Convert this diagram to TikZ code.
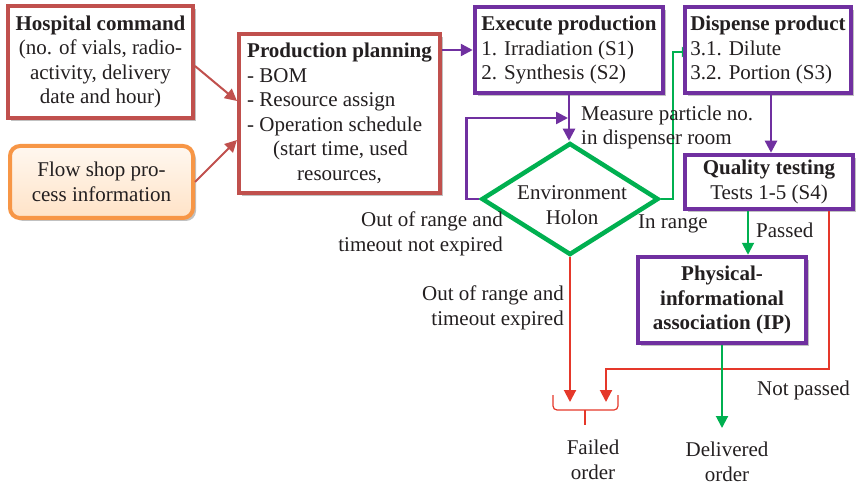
\documentclass[tikz,border=0pt]{standalone}
\usepackage{fontspec}
\setmainfont{Liberation Serif}
\usetikzlibrary{shapes.geometric,arrows.meta,shadows,backgrounds}

\definecolor{boxred}{HTML}{C0504D}
\definecolor{failred}{HTML}{E5382A}
\definecolor{holonpurple}{HTML}{7030A0}
\definecolor{holongreen}{HTML}{00B050}
\definecolor{orangeedge}{HTML}{F79646}
\definecolor{inktext}{HTML}{231F20}

\newcommand\diagfont{\fontsize{21}{24.5}\selectfont}

\begin{document}
\begin{tikzpicture}[x=1pt,y=-1pt,
  every node/.style={font=\diagfont, text=inktext},
  boxshadow/.style={drop shadow={shadow xshift=3pt,shadow yshift=-3pt,opacity=0.35,fill=black!70}},
  redbox/.style={draw=boxred,line width=4pt,fill=white,boxshadow,inner sep=3pt},
  purplebox/.style={draw=holonpurple,line width=4.5pt,fill=white,boxshadow,inner sep=3pt},
  tip/.style={-{Triangle[length=12pt,width=12pt]}},
  inconn/.style={draw=boxred,line width=2pt,tip},
  purpleconn/.style={draw=holonpurple,line width=2.5pt,tip},
  greenconn/.style={draw=holongreen,line width=2pt,tip},
  failconn/.style={draw=failred,line width=2pt,tip},
  lbl/.style={inner sep=0pt}
]
\useasboundingbox (0,0) rectangle (858,486);

% ---- boxes ----
\node[redbox, minimum width=185pt, minimum height=112pt, align=center] (hosp) at (100.5,62)
  {\textbf{Hospital command}\\(no. of vials, radio-\\activity, delivery\\date and hour)};

\node[draw=orangeedge, line width=4pt, rounded corners=10pt, top color=orange!6, bottom color=orange!22,
      boxshadow, minimum width=183pt, minimum height=72pt, align=center] (flow) at (101.5,182)
  {Flow shop pro-\\cess information};

\node[redbox, minimum width=201pt, minimum height=159pt, align=left] (pp) at (339.5,113.5)
  {\textbf{Production planning}\\- BOM\\- Resource assign\\- Operation schedule\\\hspace*{26pt}(start time, used\\\hspace*{50pt}resources,};

\node[purplebox, minimum width=188pt, minimum height=86pt, align=left] (exec) at (569,50)
  {\textbf{Execute production}\\1. Irradiation (S1)\\2. Synthesis (S2)};

\node[purplebox, minimum width=166pt, minimum height=86pt, align=left] (disp) at (768,50)
  {\textbf{Dispense product}\\3.1. Dilute\\3.2. Portion (S3)};

\node[purplebox, minimum width=168pt, minimum height=54pt, align=center] (qual) at (769,182)
  {\textbf{Quality testing}\\Tests 1-5 (S4)};

\node[purplebox, minimum width=168pt, minimum height=86pt, align=center, font=\diagfont\bfseries] (phys) at (722,300)
  {Physical-\\informational\\association (IP)};

\node[diamond, draw=holongreen, line width=4.5pt, minimum width=177pt, minimum height=112pt, inner sep=0pt] (dia) at (570,199) {};
\node[align=center, lbl] (diatext) at (572,205) {Environment\\Holon};

% ---- free ends ----
\coordinate (loopin) at (568,118);
\coordinate (rangeup) at (673,52);
\coordinate (f1) at (570,402);
\coordinate (f2) at (606,402);
\coordinate (deliv) at (722,428);

% ---- connectors ----
\draw[inconn] ([yshift=-4pt]hosp.east) -- ([yshift=12.5pt]pp.west);
\draw[inconn] (flow.east) -- ([yshift=-26.5pt]pp.west);
\draw[purpleconn] (pp.east |- exec.west) -- (exec.west);
\draw[purpleconn] (exec.south) -- (exec.south |- dia.north);
\draw[purpleconn] (dia.west) -- ++(-13,0) |- (loopin);
\begin{pgfonlayer}{background}
\draw[draw=holongreen,line width=2pt,-{Triangle[length=9pt,width=10pt]}]
  (dia.east) -| (rangeup) -- ([xshift=8pt]disp.west |- rangeup);
\end{pgfonlayer}
\draw[purpleconn] ([xshift=3pt]disp.south) -- ([xshift=3pt]disp.south |- qual.north);
\draw[greenconn] ([xshift=-21pt]qual.south) -- ([xshift=-21pt]qual.south |- phys.north);
\draw[failconn] ([xshift=60pt]qual.south) -- ++(0,158) -| (f2);
\draw[failconn] (dia.south) -- (f1);
\draw[greenconn] (phys.south) -- (deliv);

% failed-order bracket
\draw[failred, line width=1.2pt, rounded corners=4pt] (553,395) -- (553,410) -- (618,410) -- (618,395);
\draw[failred, line width=1.2pt] (585,410) -- (585,425);

% ---- labels ----
\node[lbl, align=left, anchor=west] (measure) at (581,127.5) {Measure particle no.\\in dispenser room};
\node[lbl, align=right, anchor=east] (notexp) at (503,234) {Out of range and\\timeout not expired};
\node[lbl, anchor=west] (inrange) at (638,224) {In range};
\node[lbl, anchor=west] (passed) at (756,230) {Passed};
\node[lbl, align=right, anchor=east] (expired) at (564,308) {Out of range and\\timeout expired};
\node[lbl, anchor=west] (notpassed) at (757,390) {Not passed};
\node[lbl, align=center] (failed) at (593,460) {Failed\\order};
\node[lbl, align=center] (delivered) at (727,462) {Delivered\\order};
\end{tikzpicture}
\end{document}
